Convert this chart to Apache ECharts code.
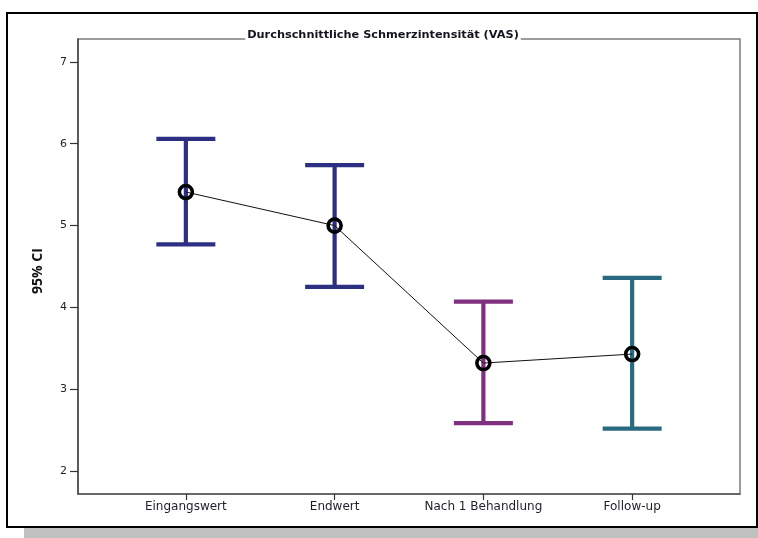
<!DOCTYPE html>
<html>
<head>
<meta charset="utf-8">
<script src="https://cdn.jsdelivr.net/npm/echarts@6/dist/echarts.min.js"></script>
<style>
  html, body { margin: 0; padding: 0; background: #fff; }
  #chart { position: absolute; left: 0; top: 0; width: 758px; height: 538px; }
  #frame {
    position: absolute; left: 6px; top: 12px; width: 752px; height: 516px;
    box-sizing: border-box; border: 2px solid #000;
    box-shadow: 18px 10px 0 #c0c0c0; pointer-events: none;
  }
</style>
</head>
<body>
<div id="chart"></div>
<div id="frame"></div>
<script>
// Mean pain intensity (VAS) with 95% confidence intervals per measurement point
const categories = ['Eingangswert', 'Endwert', 'Nach 1 Behandlung', 'Follow-up'];
const means = [5.41, 5.00, 3.32, 3.43];
const ciLower = [4.77, 4.25, 2.585, 2.52];
const ciUpper = [6.06, 5.74, 4.07, 4.36];
const yTicks = [2, 3, 4, 5, 6, 7];

const barColors = ['#2d3082', '#2d3082', '#80307f', '#286b81'];
const xTicks = categories.map((_, i) => i);

const chart = echarts.init(document.getElementById('chart'), null, { renderer: 'canvas' });

const textFont = 'DejaVu Sans';

chart.setOption({
  backgroundColor: '#fff',
  animation: false,
  title: {
    text: 'Durchschnittliche Schmerzintensität (VAS)',
    left: 381,
    textAlign: 'center',
    top: 30,
    padding: [0, 2, 2, 2],
    backgroundColor: '#fff',
    textStyle: { fontFamily: textFont, fontSize: 11.3, fontWeight: 'bold', color: '#141420' }
  },
  grid: {
    left: 78, right: 18, top: 39, bottom: 44,
    show: true, borderColor: '#7c7c7c', borderWidth: 1.5, backgroundColor: '#fff'
  },
  xAxis: {
    type: 'value',
    min: -0.725,
    max: 3.725,
    splitLine: { show: false },
    axisLine: { onZero: false, lineStyle: { color: '#555', width: 1.5 } },
    axisTick: { customValues: xTicks, length: 6, lineStyle: { color: '#333', width: 1.2 } },
    axisLabel: {
      customValues: xTicks,
      formatter: v => categories[Math.round(v)],
      margin: 7,
      fontFamily: textFont, fontSize: 12, color: '#1e1e2a'
    }
  },
  yAxis: {
    type: 'value',
    min: 1.72,
    max: 7.28,
    name: '95% CI',
    nameLocation: 'middle',
    nameRotate: 90,
    nameGap: 33,
    nameTextStyle: { fontFamily: 'Open Sans', fontSize: 14, fontWeight: 'bold', color: '#111', padding: [0, 9, 0, 0] },
    splitLine: { show: false },
    axisLine: { onZero: false, lineStyle: { color: '#444', width: 1.5 } },
    axisTick: { customValues: yTicks, length: 8, lineStyle: { color: '#333', width: 1.2 } },
    axisLabel: {
      customValues: yTicks,
      margin: 11,
      fontFamily: textFont, fontSize: 11, color: '#1e1e2a'
    }
  },
  series: [
    {
      // confidence-interval whiskers with caps
      type: 'custom',
      z: 2,
      data: categories.map((_, i) => [i, ciLower[i], ciUpper[i]]),
      encode: { x: 0, y: [1, 2] },
      renderItem: function (params, api) {
        const x = api.value(0);
        const lo = api.coord([x, api.value(1)]);
        const hi = api.coord([x, api.value(2)]);
        const half = 29.5;
        const style = { stroke: barColors[params.dataIndex], lineWidth: 4.2, fill: null };
        return {
          type: 'group',
          children: [
            { type: 'line', shape: { x1: lo[0], y1: lo[1], x2: hi[0], y2: hi[1] }, style },
            { type: 'line', shape: { x1: hi[0] - half, y1: hi[1], x2: hi[0] + half, y2: hi[1] }, style },
            { type: 'line', shape: { x1: lo[0] - half, y1: lo[1], x2: lo[0] + half, y2: lo[1] }, style }
          ]
        };
      }
    },
    {
      // means joined by a thin line
      type: 'line',
      z: 3,
      data: categories.map((_, i) => [i, means[i]]),
      symbol: 'circle',
      symbolSize: 13,
      lineStyle: { color: '#111', width: 1 },
      itemStyle: { color: 'rgba(255,255,255,0)', borderColor: '#000', borderWidth: 3.6 }
    }
  ]
});
</script>
</body>
</html>
